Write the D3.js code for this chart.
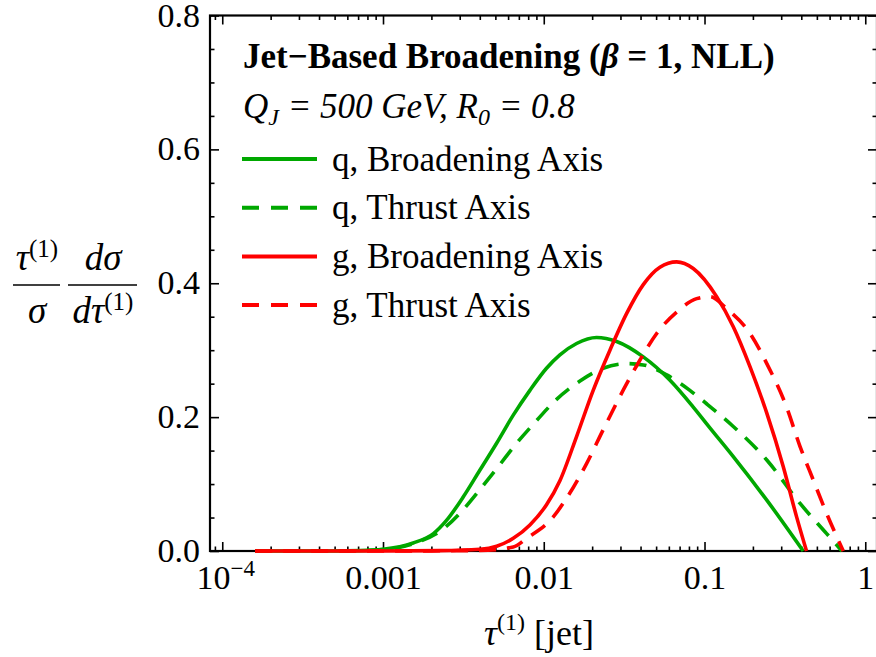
<!DOCTYPE html>
<html>
<head>
<meta charset="utf-8">
<script src="https://cdn.jsdelivr.net/npm/d3@7"></script>
<style>
  body { margin: 0; background: #fff; }
  svg { display: block; font-family: "Liberation Serif", "Times New Roman", serif; }
</style>
</head>
<body>
<svg></svg>
<script>
// Values: tau^(1) and (tau/sigma) dsigma/dtau.
const qBroadTau = [1.6e-4, 4.7e-4, 7.2e-4, 1.0e-3, 1.54e-3, 2.06e-3, 2.49e-3, 3.16e-3, 4.01e-3, 5.09e-3, 6.46e-3, 8.2e-3, 0.0104, 0.0126, 0.016, 0.0213, 0.0284, 0.0416, 0.061, 0.0851, 0.108, 0.151, 0.244, 0.411];
const qBroadVal = [0, 0, 0.0005, 0.0025, 0.012, 0.026, 0.046, 0.081, 0.121, 0.161, 0.203, 0.24, 0.273, 0.293, 0.31, 0.319, 0.313, 0.29, 0.255, 0.215, 0.184, 0.141, 0.076, 0];

const qThrustTau = [1.6e-4, 4.7e-4, 7.2e-4, 1.0e-3, 1.54e-3, 2.37e-3, 3.08e-3, 4.11e-3, 5.21e-3, 6.78e-3, 9.04e-3, 0.0117, 0.0168, 0.0234, 0.0328, 0.0416, 0.0582, 0.0811, 0.103, 0.151, 0.244, 0.393, 0.575, 0.716];
const qThrustVal = [0, 0, 0.0005, 0.002, 0.011, 0.033, 0.059, 0.095, 0.126, 0.161, 0.195, 0.224, 0.254, 0.273, 0.28, 0.278, 0.263, 0.24, 0.22, 0.186, 0.136, 0.071, 0.026, 0];

const gBroadTau = [1.6e-4, 1.0e-3, 2.26e-3, 4.01e-3, 5.09e-3, 6.46e-3, 8.2e-3, 0.0104, 0.0126, 0.016, 0.0203, 0.0258, 0.0328, 0.0416, 0.0528, 0.0671, 0.0851, 0.119, 0.151, 0.192, 0.244, 0.309, 0.374, 0.431];
const gBroadVal = [0, 0, 0.0005, 0.0025, 0.007, 0.019, 0.039, 0.069, 0.105, 0.171, 0.24, 0.3, 0.355, 0.398, 0.424, 0.432, 0.422, 0.38, 0.335, 0.275, 0.206, 0.126, 0.051, 0];

const gThrustTau = [1.6e-4, 1.0e-3, 4.01e-3, 6.46e-3, 7.83e-3, 0.01146, 0.01387, 0.0185, 0.0234, 0.0328, 0.0396, 0.0504, 0.0671, 0.0893, 0.108, 0.1374, 0.192, 0.244, 0.324, 0.393, 0.475, 0.575, 0.73];
const gThrustVal = [0, 0, 0.0008, 0.006, 0.019, 0.051, 0.079, 0.131, 0.181, 0.25, 0.285, 0.325, 0.357, 0.377, 0.38, 0.362, 0.325, 0.28, 0.215, 0.156, 0.106, 0.056, 0];

// Axis ticks and labels.
const xMajor = [1e-4, 1e-3, 1e-2, 0.1, 1];
const xLabels = ["10", "0.001", "0.01", "0.1", "1"];
const yMajor = [0, 0.2, 0.4, 0.6, 0.8];
const yLabels = ["0.0", "0.2", "0.4", "0.6", "0.8"];

// Legend texts.
const title = "Jet\u2212Based Broadening (";
const legendLabels = ["q, Broadening Axis", "q, Thrust Axis", "g, Broadening Axis", "g, Thrust Axis"];

// Rendering variables.
const width = 876, height = 657;
const plotLeft = 210, plotRight = 877, plotTop = 15.5, plotBottom = 551;
const green = "#00a800", red = "#ff0000";
const fontSize = 34, legendSize = 35, mathSize = 37;

const series = [
  { tau: qBroadTau, val: qBroadVal, color: green, dashed: false },
  { tau: qThrustTau, val: qThrustVal, color: green, dashed: true },
  { tau: gBroadTau, val: gBroadVal, color: red, dashed: false },
  { tau: gThrustTau, val: gThrustVal, color: red, dashed: true },
];

const svg = d3.select("svg").attr("width", width).attr("height", height);
svg.append("rect").attr("width", width).attr("height", height).attr("fill", "#fff");

const x = d3.scaleLog().domain([8.39e-5, 1.183]).range([plotLeft, plotRight]);
const y = d3.scaleLinear().domain([0, 0.8]).range([plotBottom, plotTop]);

// Minor ticks: 2..9 times each decade, and every 0.05 on y.
const xMinor = [];
for (let k = -5; k <= 0; k++) {
  for (let m = 2; m <= 9; m++) {
    const v = m * Math.pow(10, k);
    if (v > x.domain()[0] && v < x.domain()[1]) xMinor.push(v);
  }
}
const yMinor = d3.range(0, 0.8001, 0.05).filter((v) => Math.abs(v / 0.2 - Math.round(v / 0.2)) > 1e-6);

// Draw inward ticks on all four sides.
function ticks(axis, transform, values, size) {
  const g = svg.append("g").attr("transform", transform)
    .call(axis.tickValues(values).tickSize(size).tickSizeOuter(0).tickFormat(""));
  g.select(".domain").remove();
  g.selectAll("line").attr("stroke", "#000").attr("stroke-width", 1.6);
  return g;
}

ticks(d3.axisBottom(x), `translate(0,${plotBottom})`, xMinor, -4.5);
ticks(d3.axisTop(x), `translate(0,${plotTop})`, xMinor, -4.5);
ticks(d3.axisTop(x), `translate(0,${plotTop})`, xMajor, -9);
ticks(d3.axisLeft(y), `translate(${plotLeft},0)`, yMinor, -4.5);
ticks(d3.axisRight(y), `translate(${plotRight},0)`, yMinor, -4.5);
ticks(d3.axisRight(y), `translate(${plotRight},0)`, yMajor, -9);

// Bottom axis with labels.
const xAxis = svg.append("g").attr("transform", `translate(0,${plotBottom})`)
  .call(d3.axisBottom(x).tickValues(xMajor).tickSize(-9).tickSizeOuter(0)
    .tickFormat((d, i) => xLabels[i]));
xAxis.select(".domain").remove();
xAxis.selectAll("line").attr("stroke", "#000").attr("stroke-width", 1.6);
xAxis.selectAll("text").attr("y", 38).attr("dy", null)
  .attr("font-size", fontSize).attr("fill", "#000").attr("font-family", "Liberation Serif");
xAxis.selectAll("text").filter((d) => d === 1e-4)
  .attr("dx", 3)
  .append("tspan").attr("dy", -13).attr("font-size", 23).text("\u22124");

// Left axis with labels.
const yAxis = svg.append("g").attr("transform", `translate(${plotLeft},0)`)
  .call(d3.axisLeft(y).tickValues(yMajor).tickSize(-9).tickSizeOuter(0).tickPadding(10)
    .tickFormat((d, i) => yLabels[i]));
yAxis.select(".domain").remove();
yAxis.selectAll("line").attr("stroke", "#000").attr("stroke-width", 1.6);
yAxis.selectAll("text").attr("dy", 10.5)
  .attr("font-size", fontSize).attr("fill", "#000").attr("font-family", "Liberation Serif");

// Frame.
svg.append("rect")
  .attr("x", plotLeft).attr("y", plotTop)
  .attr("width", plotRight - plotLeft).attr("height", plotBottom - plotTop)
  .attr("fill", "none").attr("stroke", "#000").attr("stroke-width", 2.2);

// Curves.
const line = d3.line()
  .x((d) => x(d[0]))
  .y((d) => y(d[1]))
  .curve(d3.curveMonotoneX);

svg.append("g")
  .selectAll("path")
  .data(series)
  .join("path")
  .attr("d", (s) => line(d3.zip(s.tau, s.val)))
  .attr("fill", "none")
  .attr("stroke", (s) => s.color)
  .attr("stroke-width", 3.6)
  .attr("stroke-dasharray", (s) => (s.dashed ? "17,11" : null));

// Legend block.
const titleText = svg.append("text").attr("x", 243).attr("y", 68)
  .attr("font-size", legendSize).attr("font-weight", "bold");
titleText.append("tspan").text(title);
titleText.append("tspan").attr("font-style", "italic").text("\u03b2");
titleText.append("tspan").text(" = 1, NLL)");

const sub = svg.append("text").attr("x", 243).attr("y", 118)
  .attr("font-size", legendSize).attr("font-style", "italic");
sub.append("tspan").text("Q");
sub.append("tspan").attr("font-size", 24).attr("dy", 7).text("J");
sub.append("tspan").attr("dy", -7).text(" = 500 GeV, R");
sub.append("tspan").attr("font-size", 24).attr("dy", 7).text("0");
sub.append("tspan").attr("dy", -7).text(" = 0.8");

const legend = svg.append("g")
  .selectAll("g")
  .data(series)
  .join("g")
  .attr("transform", (s, i) => `translate(242,${159 + i * 48.7})`);
legend.append("line")
  .attr("x1", 0).attr("x2", 75)
  .attr("stroke", (s) => s.color)
  .attr("stroke-width", 4)
  .attr("stroke-dasharray", (s) => (s.dashed ? "17,12" : null));
legend.append("text")
  .attr("x", 90).attr("y", 11.5)
  .attr("font-size", legendSize)
  .text((s, i) => legendLabels[i]);

// Axis titles.
const xTitle = svg.append("text").attr("x", 539).attr("y", 645)
  .attr("text-anchor", "middle").attr("font-size", 36);
xTitle.append("tspan").attr("font-style", "italic").text("\u03c4");
xTitle.append("tspan").attr("font-size", 24).attr("dy", -15).text("(1)");
xTitle.append("tspan").attr("dy", 15).text(" [jet]");

const yTitle = svg.append("g");
function frac(cx, x0, x1, num, den) {
  yTitle.append("line").attr("x1", x0).attr("x2", x1).attr("y1", 285).attr("y2", 285)
    .attr("stroke", "#000").attr("stroke-width", 1.6);
  const n = yTitle.append("text").attr("x", cx).attr("y", 270)
    .attr("text-anchor", "middle").attr("font-size", mathSize);
  num(n);
  const d = yTitle.append("text").attr("x", cx).attr("y", 323)
    .attr("text-anchor", "middle").attr("font-size", mathSize);
  den(d);
}
frac(37, 13, 60,
  (t) => {
    t.append("tspan").attr("font-style", "italic").text("\u03c4");
    t.append("tspan").attr("font-size", 25).attr("dy", -13).text("(1)");
  },
  (t) => t.append("tspan").attr("font-style", "italic").text("\u03c3"));
frac(103, 68, 137,
  (t) => t.append("tspan").attr("font-style", "italic").text("d\u03c3"),
  (t) => {
    t.append("tspan").attr("font-style", "italic").text("d\u03c4");
    t.append("tspan").attr("font-size", 25).attr("dy", -13).text("(1)");
  });
</script>
</body>
</html>
